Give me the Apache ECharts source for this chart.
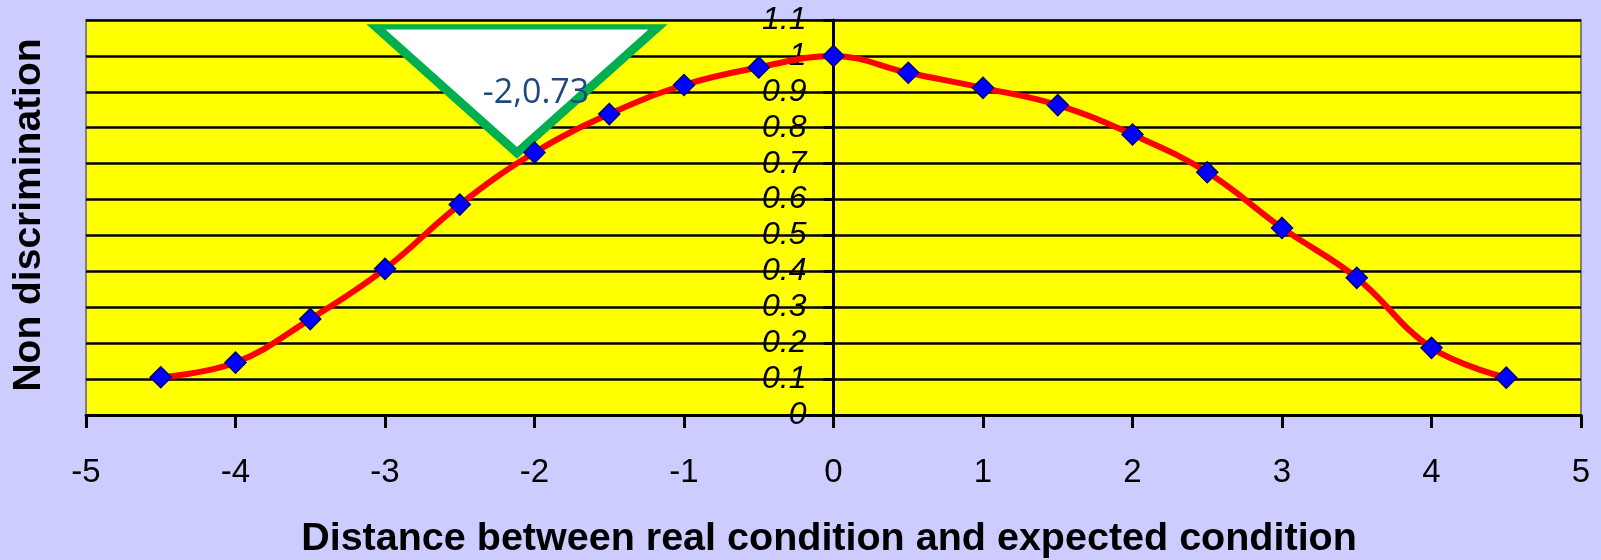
<!DOCTYPE html>
<html>
<head>
<meta charset="utf-8">
<script src="https://cdn.jsdelivr.net/npm/echarts@6/dist/echarts.min.js"></script>
<style>
  html, body { margin: 0; padding: 0; background: #CCCCFF; }
  #chart { width: 1601px; height: 560px; }
</style>
</head>
<body>
<div id="chart"></div>
<script>
// ---- data ----
const xValues = [-4.5, -4, -3.5, -3, -2.5, -2, -1.5, -1, -0.5, 0, 0.5, 1, 1.5, 2, 2.5, 3, 3.5, 4, 4.5];
const yValues = [0.105, 0.146, 0.267, 0.407, 0.586, 0.731, 0.838, 0.919, 0.968, 1.0, 0.953, 0.911, 0.863, 0.781, 0.676, 0.521, 0.382, 0.187, 0.104];
const xTicks = { min: -5, max: 5, step: 1 };
const yTicks = { min: 0, max: 1.1, step: 0.1 };
const xTitle = 'Distance between real condition and expected condition';
const yTitle = 'Non discrimination';
const calloutPoint = [-2, 0.73];
const calloutText = '-2,0.73';

const seriesData = xValues.map((x, i) => [x, yValues[i]]);

// layout
const W = 1601, H = 560;
const gridL = 86, gridR = 20, gridT = 20, gridB = 145;
const gridW = W - gridL - gridR;
// y axis sits at x = 0 of the x scale
const yAxisOffset = -((0 - xTicks.min) / (xTicks.max - xTicks.min)) * gridW;

const chart = echarts.init(document.getElementById('chart'), null, { renderer: 'canvas' });
chart.setOption({
  animation: false,
  backgroundColor: '#CCCCFF',
  grid: {
    left: gridL, right: gridR, top: gridT, bottom: gridB,
    show: true,
    backgroundColor: '#FFFF00',
    borderColor: '#808080',
    borderWidth: 2,
    containLabel: false,
    outerBoundsMode: 'none'
  },
  xAxis: {
    type: 'value',
    min: xTicks.min, max: xTicks.max, interval: xTicks.step,
    axisLine: { show: true, onZero: false, lineStyle: { color: '#000', width: 3 } },
    axisTick: { show: true, length: 13, lineStyle: { color: '#000', width: 3 } },
    axisLabel: { color: '#000', fontSize: 33, fontFamily: 'Liberation Sans', margin: 41 },
    splitLine: { show: false }
  },
  yAxis: {
    type: 'value',
    position: 'left',
    offset: yAxisOffset,
    min: yTicks.min, max: yTicks.max, interval: yTicks.step,
    axisLine: { show: true, onZero: false, lineStyle: { color: '#000', width: 3 } },
    axisTick: { show: true, length: 10, lineStyle: { color: '#000', width: 3 } },
    axisLabel: {
      color: '#000', fontSize: 32, fontStyle: 'italic', fontFamily: 'Liberation Sans', margin: 27,
      formatter: v => String(Math.round(v * 10) / 10)
    },
    splitLine: { show: true, lineStyle: { color: '#000', width: 2.5 } }
  },
  graphic: [
    {
      type: 'text', z: 10,
      x: 829, y: 539,
      style: { text: xTitle, font: 'bold 39.5px "Liberation Sans"', fill: '#000', textAlign: 'center', textVerticalAlign: 'middle' }
    },
    {
      type: 'text', z: 10,
      x: 29, y: 215, rotation: Math.PI / 2,
      style: { text: yTitle, font: 'bold 39px "Liberation Sans"', fill: '#000', textAlign: 'center', textVerticalAlign: 'middle' }
    }
  ],
  series: [{
    type: 'line',
    data: seriesData,
    smooth: 0.4,
    symbol: 'diamond',
    symbolSize: 21,
    lineStyle: { color: '#FF0000', width: 6 },
    itemStyle: { color: '#0000FF', borderColor: '#000080', borderWidth: 1.5 },
    z: 5,
    markPoint: {
      silent: true,
      symbol: 'path://M0,0 L100,0 L50,44.7 Z',
      symbolKeepAspect: false,
      symbolSize: [282, 126],
      symbolOffset: [-17.5, -63],
      itemStyle: { color: '#FFFFFF', borderColor: '#00B050', borderWidth: 8 },
      label: {
        show: true, position: 'inside', offset: [19, 3],
        formatter: calloutText,
        color: '#1F497D', fontSize: 34, fontFamily: 'Open Sans'
      },
      data: [{ coord: calloutPoint }]
    }
  }]
});
</script>
</body>
</html>
